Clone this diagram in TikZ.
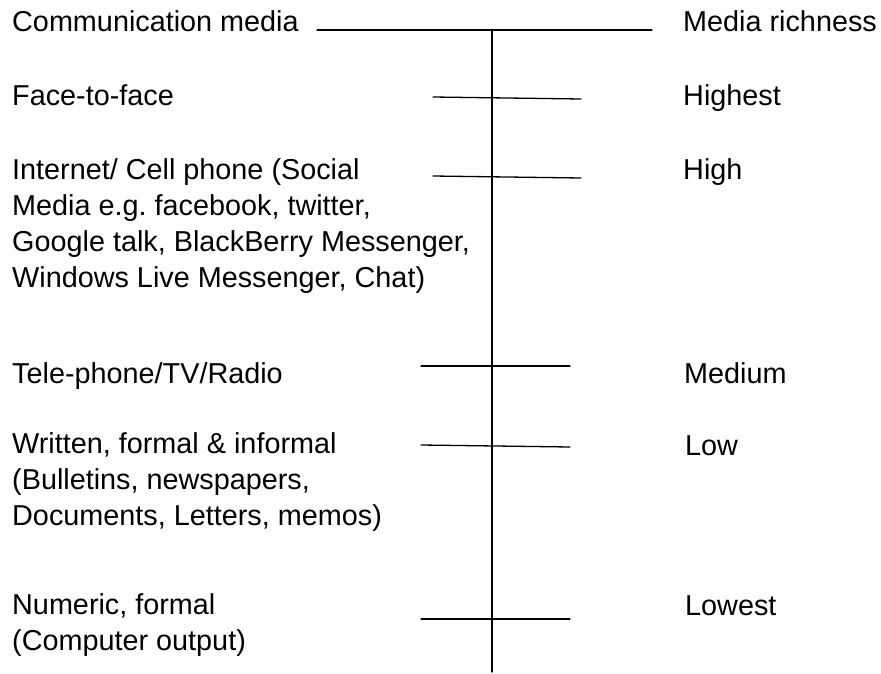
\documentclass[tikz,border=0pt]{standalone}
\usepackage{fontspec}
\setmainfont{Liberation Sans}
\usepackage{tkz-euclide}
\tikzset{>=stealth}
\tikzset{media/.style={anchor=base west, inner sep=0pt, align=left,
    font=\fontsize{28.8}{35.8}\selectfont\frenchspacing}}

\begin{document}
\begin{tikzpicture}[x=1pt,y=1pt]
    \useasboundingbox (0,0) rectangle (881,-674);
    \tkzDefPoints{317/-30/L, 652/-30/R, 492/-30/T, 492/-672/B}
    \tkzDefPoints{433/-97/F1, 581/-99/F2, 433/-176/I1, 581/-178/I2}
    \tkzDefPoints{421/-366/P1, 570/-366/P2, 421/-445/W1, 570/-447/W2}
    \tkzDefPoints{421/-619/N1, 570/-619/N2}
    \tkzDrawSegments[line width=1.3pt](L,R T,B F1,F2 I1,I2 P1,P2 W1,W2 N1,N2)
    % base anchor of a multi-line node sits on its last line
    \node[media] (comm) at (12,-32) {Communication media};
    \node[media] (rich) at (683,-32) {Media richness};
    \node[media] (face) at (12,-106) {Face-to-face};
    \node[media] (highest) at (683,-106) {Highest};
    \node[media] (net) at (12,-287) {Internet/ Cell phone (Social\\
        Media e.g. facebook, twitter,\\
        Google talk, BlackBerry Messenger,\\
        Windows Live Messenger, Chat)};
    \node[media] (high) at (683,-179) {High};
    \node[media] (tele) at (12,-383) {Tele-phone/TV/Radio};
    \node[media] (medium) at (684,-383) {Medium};
    \node[media] (written) at (12,-525) {Written, formal \& informal\\
        (Bulletins, newspapers,\\
        Documents, Letters, memos)};
    \node[media] (low) at (685,-455) {Low};
    \node[media] (numeric) at (12,-650) {Numeric, formal\\
        (Computer output)};
    \node[media] (lowest) at (685,-615) {Lowest};
\end{tikzpicture}
\end{document}
